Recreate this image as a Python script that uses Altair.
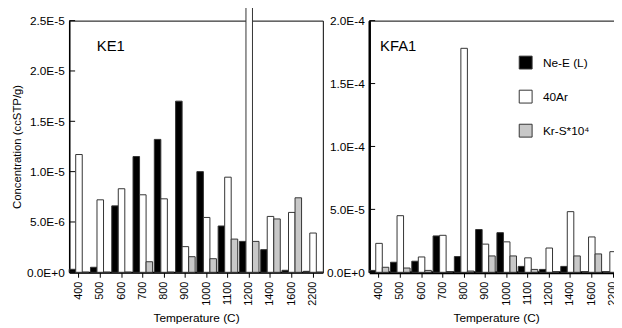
import altair as alt
import pandas as pd

temps = ["400", "500", "600", "700", "800", "900", "1000", "1100", "1200", "1400", "1600", "2200"]
series = ["Ne-E (L)", "40Ar", "Kr-S*10⁴"]

# KE1 (ccSTP/g)
ke1_ne = [0.3e-6, 0.5e-6, 6.6e-6, 11.5e-6, 13.2e-6, 17.0e-6, 10.0e-6, 4.6e-6, 3.07e-6, 2.25e-6, 0.2e-6, 0.1e-6]
ke1_ar = [11.7e-6, 7.2e-6, 8.3e-6, 7.7e-6, 7.3e-6, 2.55e-6, 5.45e-6, 9.45e-6, 30.0e-6, 5.55e-6, 5.95e-6, 3.9e-6]
ke1_kr = [0.0, 0.0, 0.0, 1.05e-6, 0.0, 1.55e-6, 1.35e-6, 3.3e-6, 3.07e-6, 5.3e-6, 7.4e-6, 0.0]

# KFA1 (ccSTP/g)
kfa1_ne = [1.5e-6, 8.0e-6, 8.8e-6, 28.9e-6, 12.5e-6, 34.0e-6, 31.5e-6, 4.7e-6, 2.3e-6, 4.7e-6, 0.0, 0.0]
kfa1_ar = [23.0e-6, 45.0e-6, 12.2e-6, 29.4e-6, 178.0e-6, 22.4e-6, 24.2e-6, 11.5e-6, 19.3e-6, 48.2e-6, 28.1e-6, 16.4e-6]
kfa1_kr = [4.0e-6, 3.4e-6, 1.5e-6, 0.0, 1.0e-6, 13.0e-6, 13.0e-6, 2.3e-6, 0.0, 13.0e-6, 14.6e-6, 6.8e-6]

ke1_ticks = [0, 5e-6, 1e-5, 1.5e-5, 2e-5, 2.5e-5]
kfa1_ticks = [0, 5e-5, 1e-4, 1.5e-4, 2e-4]

FONT = "Liberation Sans"
fills = ["#000000", "#ffffff", "#c8c8c8"]


def panel(ne, ar, kr, ymax, yticks, label, ytitle, show_legend, lx, ly, axw):
    rows = []
    for i, t in enumerate(temps):
        for s, vals in zip(series, (ne, ar, kr)):
            rows.append({"T": t, "S": s, "v": vals[i]})
    df = pd.DataFrame(rows)

    if show_legend:
        legend = alt.Legend(
            title=None, orient="none", legendX=lx, legendY=ly, direction="vertical",
            symbolType="square", symbolSize=170, symbolStrokeColor="#333",
            symbolStrokeWidth=1, labelFontSize=12, labelFont=FONT, labelColor="black",
            rowPadding=15.5, labelOffset=10, padding=0,
        )
    else:
        legend = None

    yaxis_kwargs = dict(
        values=yticks,
        labelExpr="replace(format(datum.value, '.1e'), 'e', 'E')",
        grid=False, ticks=False, labelPadding=5, domainWidth=axw,
    )
    if ytitle:
        yaxis_kwargs.update(title=ytitle, titlePadding=4)
    else:
        yaxis_kwargs.update(title=None)

    yscale = alt.Scale(domain=[0, ymax], nice=False, zero=True)

    bars = alt.Chart(df).mark_bar(stroke="#333", strokeWidth=1).encode(
        x=alt.X("T:N", sort=temps,
                scale=alt.Scale(paddingInner=0.08, paddingOuter=0),
                axis=alt.Axis(title="Temperature (C)", labelAngle=270, labelAlign="right",
                              labelBaseline="middle", labelPadding=4, titlePadding=7,
                              grid=False, domainWidth=axw + 0.5)),
        xOffset=alt.XOffset("S:N", sort=series, scale=alt.Scale(paddingInner=0, paddingOuter=0)),
        y=alt.Y("v:Q", scale=yscale, axis=alt.Axis(**yaxis_kwargs)),
        color=alt.Color("S:N", scale=alt.Scale(domain=series, range=fills), legend=legend),
    )
    # inward y ticks
    ticks = alt.Chart(pd.DataFrame({"v": yticks})).mark_rule(color="black", strokeWidth=1).encode(
        y=alt.Y("v:Q", scale=yscale), x=alt.value(0), x2=alt.value(6)
    )
    txt = alt.Chart(pd.DataFrame({"t": [label]})).mark_text(
        align="left", baseline="middle", fontSize=15, font=FONT, color="black"
    ).encode(text="t:N", x=alt.value(28 if ytitle else 11), y=alt.value(26))
    return alt.layer(bars, ticks, txt).properties(width=257, height=255)


left = panel(ke1_ne, ke1_ar, ke1_kr, 2.5e-5, ke1_ticks, "KE1", "Concentration (ccSTP/g)", False, 0, 0, 1.5)
right = panel(kfa1_ne, kfa1_ar, kfa1_kr, 2.0e-4, kfa1_ticks, "KFA1", None, True, 151, 35, 2.5)

chart = alt.hconcat(left, right, spacing=2).resolve_scale(
    y="independent", color="independent", x="independent", xOffset="independent"
).properties(
    autosize=alt.AutoSizeParams(type="none"),
    padding={"left": 62, "top": 9, "right": 552, "bottom": 311},
    background="white",
).configure_view(
    stroke="black", strokeWidth=1
).configure_axis(
    labelFont=FONT, labelFontSize=11, labelColor="black",
    titleFont=FONT, titleFontSize=12, titleFontWeight="normal", titleColor="black",
    domainColor="black", tickColor="black", tickSize=5, tickWidth=1,
).configure_axisY(
    titleFontSize=11.5, labelFontSize=12,
)

chart.save("out.html", embed_options={"renderer": "svg", "actions": False})
